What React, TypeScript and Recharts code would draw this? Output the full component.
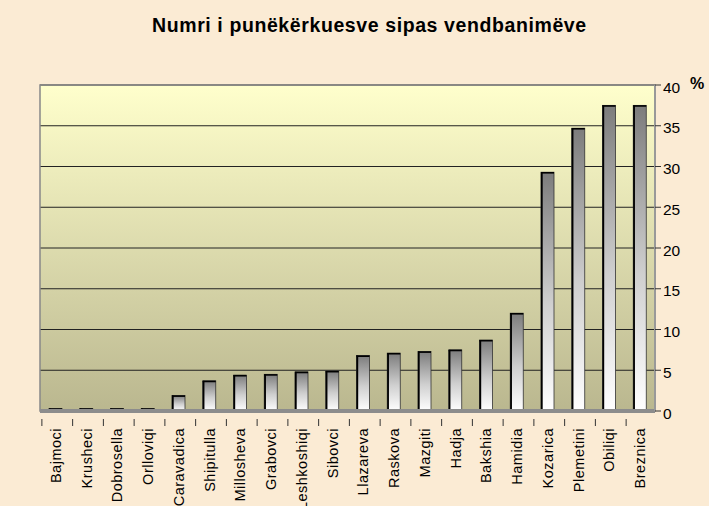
import { BarChart, Bar, XAxis, YAxis, CartesianGrid, ReferenceArea } from "recharts";

// vendbanimet dhe përqindjet
const places = [
  "Bajmoci",
  "Krusheci",
  "Dobrosella",
  "Orlloviqi",
  "Caravadica",
  "Shipitulla",
  "Millosheva",
  "Grabovci",
  "Leshkoshiqi",
  "Sibovci",
  "Llazareva",
  "Raskova",
  "Mazgiti",
  "Hadja",
  "Bakshia",
  "Hamidia",
  "Kozarica",
  "Plemetini",
  "Obiliqi",
  "Breznica",
];
const percents = [
  0.3, 0.3, 0.3, 0.3, 1.9, 3.7, 4.4, 4.5, 4.8, 4.9, 6.8, 7.1, 7.3, 7.5, 8.7,
  12.0, 29.3, 34.7, 37.5, 37.5,
];
const yTicks = [0, 5, 10, 15, 20, 25, 30, 35, 40];

const data = places.map((name, i) => ({ name, value: percents[i] }));

const font = "'Liberation Sans', Arial, sans-serif";

function CylBar(props: any) {
  const { x, y, width, height } = props;
  if (height == null || width == null) return null;
  return (
    <g>
      <rect
        x={x}
        y={y}
        width={width}
        height={height}
        fill="url(#barGrad)"
        stroke="#333"
        strokeWidth={0.8}
      />
      <line x1={x + 0.8} y1={y} x2={x + 0.8} y2={y + height} stroke="#000" strokeWidth={1.8} />
      <line x1={x} y1={y + 0.6} x2={x + width} y2={y + 0.6} stroke="#000" strokeWidth={1.6} />
    </g>
  );
}

function PlaceTick(props: any) {
  const { x, y, payload } = props;
  return (
    <g>
      <line x1={x - 13.5} y1={y} x2={x - 13.5} y2={y + 7} stroke="#333" />
      <text
        x={0}
        y={0}
        transform={`translate(${x + 5.5}, ${y + 9}) rotate(-90)`}
        textAnchor="end"
        fontSize={14.5}
        letterSpacing={0.5}
        fontFamily={font}
        fill="#000"
      >
        {payload.value}
      </text>
    </g>
  );
}

export default function App() {
  return (
    <div
      style={{
        position: "relative",
        width: 709,
        height: 506,
        background: "#FBEBD4",
        overflow: "hidden",
      }}
    >
      <style>{"body{margin:0}"}</style>
      <div
        style={{
          position: "absolute",
          left: 152,
          top: 16,
          lineHeight: 1,
          whiteSpace: "nowrap",
          fontFamily: font,
          fontWeight: "bold",
          fontSize: 19.5,
          letterSpacing: 0.6,
          color: "#000",
        }}
      >
        Numri i punëkërkuesve sipas vendbanimëve
      </div>
      <div
        style={{
          position: "absolute",
          left: 690,
          top: 76,
          lineHeight: 1,
          fontFamily: font,
          fontWeight: "bold",
          fontSize: 16,
        }}
      >
        %
      </div>
      <BarChart
        width={709}
        height={506}
        data={data}
        margin={{ top: 85, right: 14, left: 40, bottom: 0 }}
        barCategoryGap={0}
      >
        <defs>
          <linearGradient id="plotBg" x1="0" y1="0" x2="0" y2="1">
            <stop offset="0%" stopColor="#FFFFCC" />
            <stop offset="100%" stopColor="#BAB78F" />
          </linearGradient>
          <linearGradient id="barGrad" x1="0" y1="0" x2="0" y2="1">
            <stop offset="0%" stopColor="#7C7C7C" />
            <stop offset="55%" stopColor="#CFCFCF" />
            <stop offset="100%" stopColor="#FFFFFF" />
          </linearGradient>
        </defs>
        <CartesianGrid
          vertical={false}
          stroke="#222"
          strokeWidth={1}
          fill="url(#plotBg)"
          fillOpacity={1}
        />
        <ReferenceArea y1={0} y2={40} fill="none" stroke="#888" strokeWidth={1.5} ifOverflow="visible" />
        <XAxis
          dataKey="name"
          interval={0}
          height={95}
          tick={<PlaceTick />}
          tickLine={false}
          axisLine={{ stroke: "#8C8C8C", strokeWidth: 4 }}
        />
        <YAxis
          orientation="right"
          domain={[0, 40]}
          ticks={yTicks}
          width={40}
          tickSize={6}
          tickLine={{ stroke: "#333" }}
          axisLine={{ stroke: "#999", strokeWidth: 2 }}
          tick={{ fontSize: 15.5, fontFamily: font, fill: "#000", dy: 2 }}
        />
        <Bar
          dataKey="value"
          barSize={13}
          shape={<CylBar />}
          isAnimationActive={false}
        />
      </BarChart>
    </div>
  );
}
